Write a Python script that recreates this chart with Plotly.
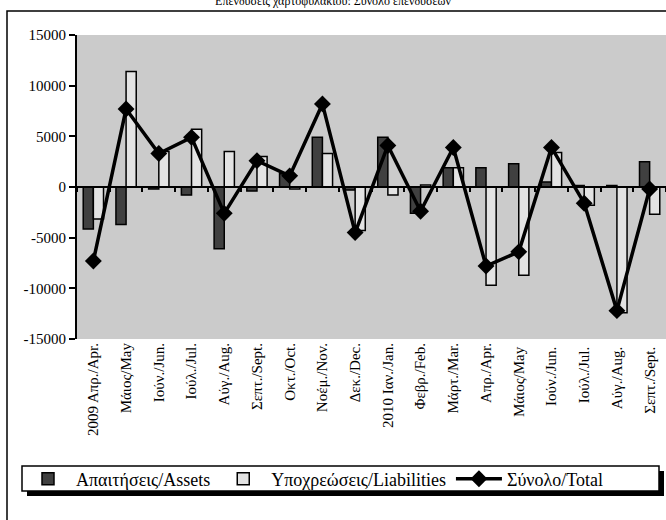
import plotly.graph_objects as go

categories = ["2009 Απρ./Apr.", "Μάιος/May", "Ιούν./Jun.", "Ιούλ./Jul.", "Αύγ./Aug.",
              "Σεπτ./Sept.", "Οκτ./Oct.", "Νοέμ./Nov.", "Δεκ./Dec.", "2010 Ιαν./Jan.",
              "Φεβρ./Feb.", "Μάρτ./Mar.", "Απρ./Apr.", "Μάιος/May ", "Ιούν./Jun. ",
              "Ιούλ./Jul. ", "Αύγ./Aug. ", "Σεπτ./Sept. "]
assets = [-4150, -3700, -200, -800, -6100, -400, 1300, 4900, -300, 4900,
          -2600, 1900, 1900, 2300, 500, 150, 150, 2500]
liabilities = [-3150, 11400, 3500, 5700, 3500, 3000, -200, 3300, -4300, -800,
               200, 1900, -9700, -8700, 3400, -1800, -12400, -2700]
total = [-7300, 7700, 3300, 4900, -2600, 2600, 1100, 8200, -4500, 4100,
         -2400, 3900, -7800, -6400, 3900, -1600, -12200, -200]
y_ticks = [-15000, -10000, -5000, 0, 5000, 10000, 15000]
y_tick_labels = [str(v) for v in y_ticks]

FONT = "Liberation Serif"
n = len(categories)

fig = go.Figure()
fig.add_trace(go.Bar(x=categories, y=assets, name="Απαιτήσεις/Assets",
                     marker=dict(color="#404040", line=dict(color="black", width=1.5))))
fig.add_trace(go.Bar(x=categories, y=liabilities, name="Υποχρεώσεις/Liabilities",
                     marker=dict(color="#e3e3e3", line=dict(color="black", width=1.5))))
fig.add_trace(go.Scatter(x=list(range(n)), y=total, name="Σύνολο/Total", mode="lines+markers",
                         xaxis="x2",
                         line=dict(color="black", width=3.5),
                         marker=dict(symbol="diamond", size=13, color="black")))

L, T, B = 77, 35, 181
W, H = 666, 520
pw = W - L
ph = H - T - B

def px_x(x):
    return (x - L) / pw

def px_y(y):
    return (H - B - y) / ph

fig.update_layout(
    width=W, height=H,
    margin=dict(l=L, r=0, t=T, b=B, autoexpand=False),
    paper_bgcolor="white",
    plot_bgcolor="#cbcbcb",
    barmode="group",
    bargap=0.38,
    bargroupgap=0.0,
    font=dict(family=FONT, color="black", size=14),
    title=dict(text="Επενδύσεις χαρτοφυλακίου: Σύνολο επενδύσεων",
               x=0.5, xref="container", y=1.0 - 1 / H, yref="container", yanchor="middle",
               font=dict(family=FONT, size=12, color="black")),
    xaxis=dict(type="category", categoryarray=categories, tickangle=-90,
               range=[-0.5, n - 0.5],
               showgrid=False, showline=False, ticks="", zeroline=False,
               automargin=False, tickfont=dict(family=FONT, size=15)),
    xaxis2=dict(type="linear", overlaying="x", range=[-0.5, n - 0.5],
                anchor="free", position=0.5, side="bottom", showticklabels=False,
                showline=True, linecolor="black", linewidth=2,
                tick0=-0.5, dtick=1, ticks="outside", ticklen=4, tickwidth=1.5,
                tickcolor="black", showgrid=False, zeroline=False, automargin=False),
    yaxis=dict(range=[-15000, 15000], tickvals=y_ticks, ticktext=y_tick_labels,
               showgrid=False, zeroline=False, automargin=False,
               showline=True, linecolor="black", linewidth=2, ticks="outside",
               ticklen=6, tickwidth=2, tickcolor="black",
               tickfont=dict(family=FONT, size=15)),
    legend=dict(orientation="h", xref="container", yref="container",
                x=20 / W, y=1 - 479 / H, xanchor="left", yanchor="middle",
                bgcolor="rgba(0,0,0,0)", borderwidth=0,
                font=dict(family=FONT, size=18), itemwidth=46,
                traceorder="normal"),
    shapes=[
        dict(type="rect", xref="paper", yref="paper",
             x0=px_x(7), x1=px_x(690), y0=px_y(11), y1=px_y(540),
             line=dict(color="black", width=1.5), fillcolor="rgba(0,0,0,0)", layer="above"),
        dict(type="rect", xref="paper", yref="paper",
             x0=px_x(27), x1=px_x(664), y0=px_y(471), y1=px_y(496),
             line=dict(width=0), fillcolor="black", layer="above"),
        dict(type="rect", xref="paper", yref="paper",
             x0=px_x(22), x1=px_x(659), y0=px_y(466), y1=px_y(491),
             line=dict(color="black", width=1.5), fillcolor="white", layer="above"),
    ],
)

fig.write_html("out.html", config={"displayModeBar": False},
               post_script="document.body.style.margin='0';")
